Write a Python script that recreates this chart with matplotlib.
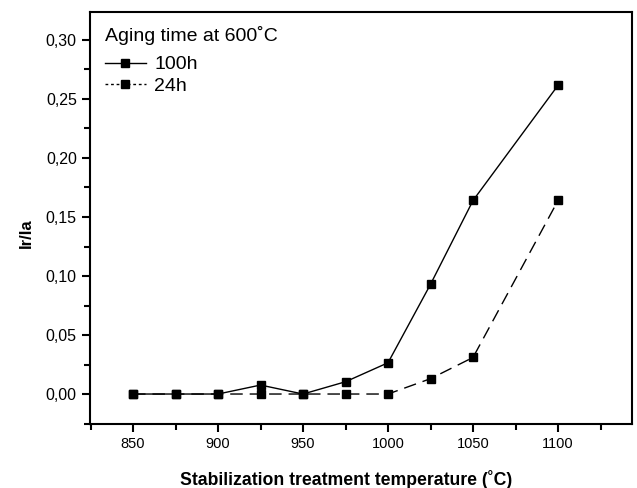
import matplotlib
matplotlib.use("Agg")
import matplotlib.pyplot as plt
from matplotlib.ticker import MultipleLocator, FuncFormatter

plt.rcParams['font.family'] = ['Liberation Sans', 'DejaVu Sans']

temps = [850, 875, 900, 925, 950, 975, 1000, 1025, 1050, 1100]
ratio_100h = [0.0, 0.0, 0.0, 0.0076, 0.0, 0.0104, 0.0265, 0.093, 0.164, 0.2616]
ratio_24h = [0.0, 0.0, 0.0, 0.0, 0.0, 0.0, 0.0, 0.013, 0.031, 0.164]

fig = plt.figure(figsize=(6.37, 4.88), dpi=100)
ax = fig.add_axes([90 / 637, 1 - 424 / 488, 542 / 637, 412 / 488])

ax.plot(temps, ratio_100h, color='black', lw=1.0, ls='-', marker='s', ms=6,
        label='100h')
ax.plot(temps, ratio_24h, color='black', lw=1.0, ls=(0, (9, 5)), marker='s', ms=6,
        label='24h')

ax.set_xlim(824.7, 1143.5)
ax.set_ylim(-0.0254, 0.3237)
ax.xaxis.set_major_locator(MultipleLocator(50))
ax.xaxis.set_minor_locator(MultipleLocator(25))
ax.yaxis.set_major_locator(MultipleLocator(0.05))
ax.yaxis.set_minor_locator(MultipleLocator(0.025))
ax.yaxis.set_major_formatter(FuncFormatter(lambda v, p: f"{v:.2f}".replace('.', ',')))

ax.tick_params(which='both', direction='out', width=1.5, labelsize=10.5,
               top=False, right=False)
ax.tick_params(axis='y', labelsize=11.5)
ax.tick_params(which='major', length=6)
ax.tick_params(which='minor', length=4)
for s in ax.spines.values():
    s.set_linewidth(1.5)

ax.set_xlabel('Stabilization treatment temperature (\u02daC)', fontsize=12.7,
              fontweight='bold')
ax.xaxis.set_label_coords((346 - 90) / 542, -(485 - 424) / 412)
ax.xaxis.label.set_va('baseline')
ax.set_ylabel('Ir/Ia', fontsize=12, fontweight='bold')
ax.yaxis.set_label_coords(-(90 - 26) / 542, (424 - 233) / 412)
ax.yaxis.label.set_va('center')

leg = ax.legend(title='Aging time at 600\u02daC', loc='upper left', frameon=False,
                fontsize=14, title_fontsize=14, handlelength=2.1,
                bbox_to_anchor=(7 / 542, 1 - 6 / 412), borderaxespad=0.0,
                labelspacing=0.2, handletextpad=0.45)
leg._legend_box.align = 'left'
leg._legend_box.sep = 8
for h in leg.legend_handles:
    h.set_linestyle((0, (2, 2)) if h.get_label() == '24h' else '-')

fig.savefig('out.png', dpi=100)
